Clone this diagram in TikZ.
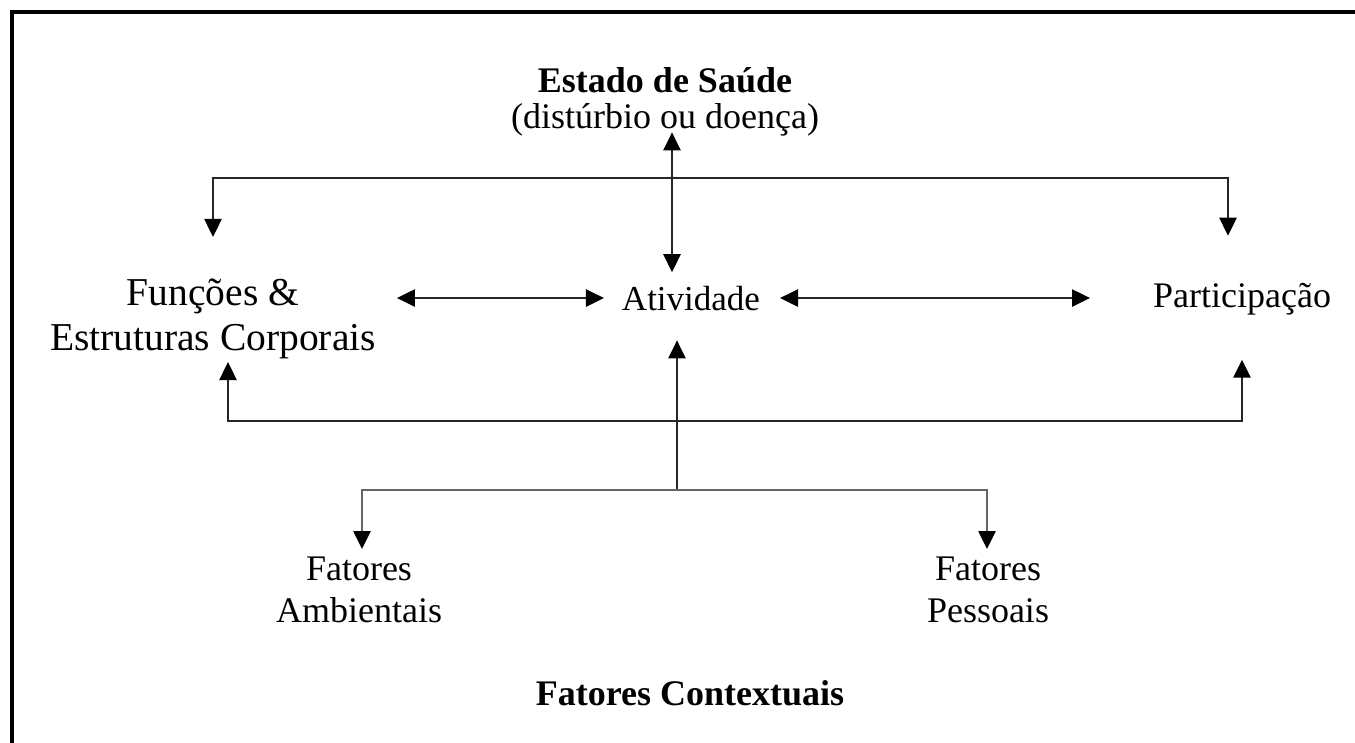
\documentclass[tikz,border=0pt]{standalone}
\usepackage{fontspec}
\setmainfont{Liberation Serif}
\usetikzlibrary{arrows.meta}
\begin{document}
\begin{tikzpicture}[x=1pt,y=-1pt,
  lbl/.style={inner sep=0pt, outer sep=0pt, font=\fontsize{36}{45}\selectfont, align=center},
  conn/.style={line width=2.5pt, draw=black!85},
  tipend/.style={-{Triangle[width=17pt,length=18pt,color=black]}},
  tipboth/.style={{Triangle[width=17pt,length=18pt,color=black]}-{Triangle[width=17pt,length=18pt,color=black]}},
  frame/.style={line width=4pt, line join=miter}
]
\useasboundingbox (0,0) rectangle (1355,742);
\fill[white] (0,0) rectangle (1355,742);
\draw[frame] (12,760) -- (12,12) -- (1370,12);

% nodes
\node[lbl, font=\fontsize{36}{36}\selectfont] (saude) at (665,102) {\textbf{Estado de Saúde}\\(distúrbio ou doença)};
\node[lbl, anchor=base, font=\fontsize{35}{40}\selectfont] (ativ) at (691,310) {Atividade};
\node[lbl, font=\fontsize{39.5}{45}\selectfont] (func) at (213,319) {Funções \&\\Estruturas Corporais};
\node[lbl, anchor=base] (part) at (1242,307) {Participação};
\node[lbl, font=\fontsize{36}{42}\selectfont] (amb) at (359,590) {Fatores\\Ambientais};
\node[lbl, font=\fontsize{36}{42}\selectfont] (pes) at (988,590) {Fatores\\Pessoais};
\node[lbl, anchor=base] (ctx) at (690,705) {\textbf{Fatores Contextuais}};

% junction coordinates
\coordinate (tS) at (672,178);
\coordinate (tL) at (213,178);
\coordinate (tR) at (1228,178);
\coordinate (bL) at (228,421);
\coordinate (bR) at (1242,421);
\coordinate (cJ) at (677,490);
\coordinate (fL) at (362,490);
\coordinate (fR) at (987,490);

% connectors
\draw[conn, tipboth, shorten <=-4pt, shorten >=13.5pt] (saude.south -| tS) -- (ativ.north -| tS);
\draw[conn, tipboth, shorten <=42pt, shorten >=47pt] (func.north -| tL) -- (tL) -- (tR) -- (part.north -| tR);
\draw[conn, tipboth, shorten <=21pt, shorten >=18pt] (func.east |- ativ.west) -- (ativ.west);
\draw[conn, tipboth, shorten <=20pt, shorten >=63pt] (ativ.east) -- (part.west |- ativ.east);
\draw[conn, tipboth, shorten <=3pt, shorten >=45pt] (func.south -| bL) -- (bL) -- (bR) -- (part.south -| bR);
\draw[conn, tipend, shorten >=30pt] (cJ) -- (ativ.south -| cJ);
\draw[conn, draw=black!60, tipboth, shorten <=8pt, shorten >=8pt] (amb.north -| fL) -- (fL) -- (fR) -- (pes.north -| fR);
\end{tikzpicture}
\end{document}
